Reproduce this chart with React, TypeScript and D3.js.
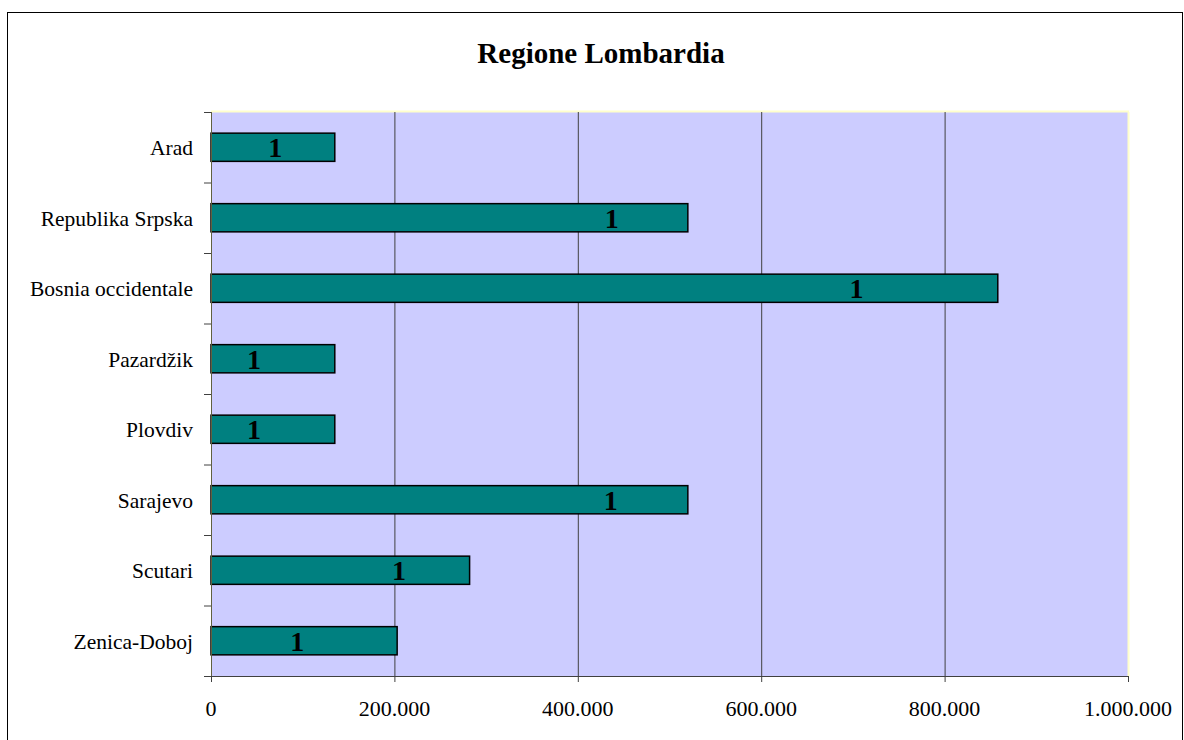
import * as d3 from "d3"

// Categories, top to bottom
const categories = [
  "Arad",
  "Republika Srpska",
  "Bosnia occidentale",
  "Pazardžik",
  "Plovdiv",
  "Sarajevo",
  "Scutari",
  "Zenica-Doboj",
]

// Bar values
const values = [135000, 520000, 858000, 135000, 135000, 520000, 282000, 203000]

// Data label text and where Excel put it (in data units)
const labels = ["1", "1", "1", "1", "1", "1", "1", "1"]
const labelAt = [70000, 437000, 704000, 47000, 47000, 436000, 205000, 94000]

const xTicks = [0, 200000, 400000, 600000, 800000, 1000000]
const title = "Regione Lombardia"

const W = 1184
const H = 740
const plot = { left: 211, right: 1128, top: 112, bottom: 676 }
const serif = "'Liberation Serif', 'Times New Roman', serif"

// 1.000.000 style, Italian grouping
const fmt = (v: number) => d3.format(",")(v).replace(/,/g, ".")

export default function App() {
  const x = d3.scaleLinear().domain([0, 1000000]).range([plot.left, plot.right])
  const y = d3
    .scaleBand<string>()
    .domain(categories)
    .range([plot.top, plot.bottom])
    .paddingInner(0.6)
    .paddingOuter(0.3)
  const step = y.step()
  const bounds = d3.range(categories.length + 1).map((i) => plot.top + i * step)

  return (
    <svg
      width={W}
      height={H}
      style={{ position: "absolute", left: 0, top: 0, background: "#fff" }}
      fontFamily={serif}
    >
      {/* chart border */}
      <rect x={7.5} y={12.5} width={1175} height={740} fill="none" stroke="#000" strokeWidth={1} />

      <text x={601} y={63} textAnchor="middle" fontSize={29} fontWeight="bold">
        {title}
      </text>

      {/* plot area */}
      <rect
        x={plot.left}
        y={plot.top}
        width={plot.right - plot.left}
        height={plot.bottom - plot.top}
        fill="#CCCCFF"
      />
      <line x1={plot.left} x2={plot.right + 1} y1={plot.top - 0.5} y2={plot.top - 0.5} stroke="#FFFFCC" strokeWidth={2} />
      <line x1={plot.right + 0.5} x2={plot.right + 0.5} y1={plot.top} y2={plot.bottom} stroke="#FFFFCC" strokeWidth={2} />

      {/* vertical gridlines */}
      {xTicks.slice(1, -1).map((t) => (
        <line key={t} x1={x(t) + 0.5} x2={x(t) + 0.5} y1={plot.top} y2={plot.bottom} stroke="#404040" strokeWidth={1} />
      ))}

      {/* bars */}
      {categories.map((c, i) => (
        <rect
          key={c}
          x={x(0)}
          y={y(c)!}
          width={x(values[i]) - x(0)}
          height={y.bandwidth()}
          fill="#008080"
          stroke="#000"
          strokeWidth={1.5}
        />
      ))}

      {/* data labels */}
      {categories.map((c, i) => (
        <text
          key={c}
          x={x(labelAt[i])}
          y={y(c)! + y.bandwidth() / 2 + 10}
          textAnchor="middle"
          fontSize={28}
          fontWeight="bold"
        >
          {labels[i]}
        </text>
      ))}

      {/* axes */}
      <line x1={plot.left + 0.5} x2={plot.left + 0.5} y1={plot.top} y2={plot.bottom} stroke="#606040" strokeWidth={1} />
      <line x1={plot.left} x2={plot.right + 1} y1={plot.bottom + 0.5} y2={plot.bottom + 0.5} stroke="#404040" strokeWidth={1} />
      {bounds.map((b, i) => (
        <line key={i} x1={plot.left - 7} x2={plot.left} y1={b + 0.5} y2={b + 0.5} stroke="#404040" strokeWidth={1} />
      ))}
      {xTicks.map((t) => (
        <line key={t} x1={x(t) + 0.5} x2={x(t) + 0.5} y1={plot.bottom} y2={plot.bottom + 6} stroke="#404040" strokeWidth={1} />
      ))}

      {/* category labels */}
      {categories.map((c) => (
        <text key={c} x={193} y={y(c)! + y.bandwidth() / 2 + 8} textAnchor="end" fontSize={21.5}>
          {c}
        </text>
      ))}

      {/* value axis labels */}
      {xTicks.map((t) => (
        <text key={t} x={x(t)} y={716} textAnchor="middle" fontSize={22}>
          {fmt(t)}
        </text>
      ))}
    </svg>
  )
}
